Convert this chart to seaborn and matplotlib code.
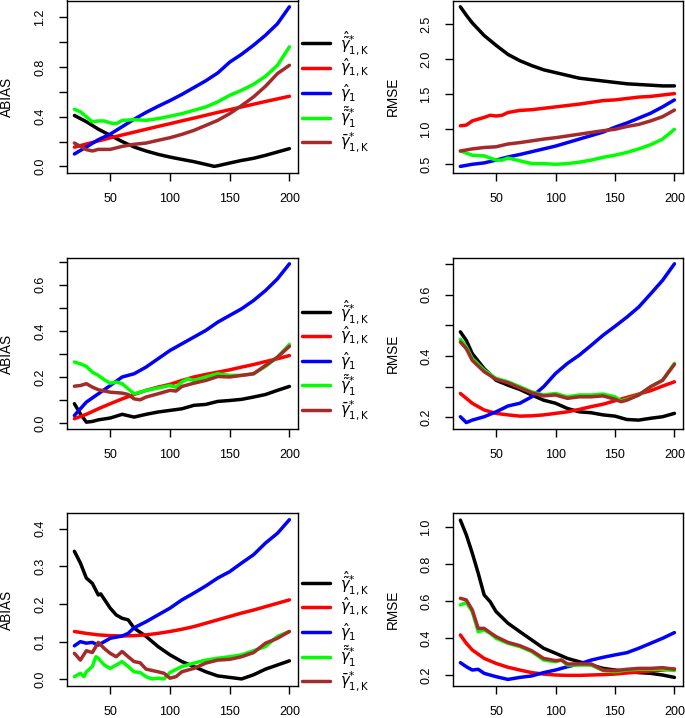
import matplotlib
matplotlib.use("Agg")
import matplotlib.pyplot as plt
import pandas as pd
import seaborn as sns
from matplotlib.lines import Line2D

sns.set_theme(style="ticks")
plt.rcParams["font.family"] = ["Liberation Sans", "DejaVu Sans"]
plt.rcParams["mathtext.fontset"] = "dejavusans"

# ---------------- data ----------------
SERIES_COLORS = ["#000000", "#FF0000", "#0000FF", "#00FF00", "#A52A2A"]
LEGEND_LABELS = [
    r"$\hat{\tilde{\gamma}}^{*}_{\mathrm{1,K}}$",
    r"$\hat{\gamma}_{\mathrm{1,K}}$",
    r"$\hat{\gamma}_{\mathrm{1}}$",
    r"$\tilde{\tilde{\gamma}}^{*}_{\mathrm{1}}$",
    r"$\bar{\gamma}^{*}_{\mathrm{1,K}}$",
]
X_TICKS = [50, 100, 150, 200]

# Row 1, ABIAS
abias1_black = [(20, .41), (30, .36), (40, .30), (50, .25), (60, .20), (70, .156), (80, .124), (90, .097),
                (100, .075), (110, .056), (120, .038), (130, .016), (137, .0), (140, .005), (150, .027),
                (160, .048), (170, .065), (180, .089), (190, .116), (200, .143)]
abias1_red = [(20, .155), (30, .18), (40, .205), (50, .23), (60, .253), (70, .276), (80, .299), (90, .322),
              (100, .344), (110, .367), (120, .389), (130, .412), (140, .435), (150, .457), (160, .479),
              (170, .501), (180, .523), (190, .544), (200, .565)]
abias1_blue = [(20, .10), (30, .156), (40, .215), (50, .26), (60, .32), (70, .38), (80, .435), (90, .484),
               (100, .53), (110, .58), (120, .635), (130, .69), (140, .753), (150, .84), (160, .904),
               (170, .977), (180, 1.057), (190, 1.15), (200, 1.286)]
abias1_green = [(20, .46), (25, .44), (30, .40), (35, .36), (40, .366), (45, .366), (50, .35), (55, .344),
                (60, .37), (70, .377), (80, .371), (90, .385), (100, .404), (110, .425), (120, .452),
                (130, .479), (140, .52), (150, .573), (160, .613), (170, .662), (180, .726), (190, .815),
                (200, .963)]
abias1_brown = [(20, .188), (30, .135), (35, .124), (40, .137), (50, .137), (60, .161), (70, .178), (80, .188),
                (90, .21), (100, .231), (110, .258), (120, .29), (130, .33), (140, .371), (150, .425),
                (160, .49), (170, .56), (180, .646), (190, .748), (200, .815)]

# Row 1, RMSE
rmse1_black = [(20, 2.75), (25, 2.63), (30, 2.52), (40, 2.34), (50, 2.2), (60, 2.07), (70, 1.98), (80, 1.91),
               (90, 1.85), (100, 1.81), (110, 1.77), (120, 1.73), (130, 1.71), (140, 1.69), (150, 1.67),
               (160, 1.65), (170, 1.64), (180, 1.63), (190, 1.62), (200, 1.62)]
rmse1_red = [(20, 1.05), (25, 1.06), (30, 1.12), (40, 1.17), (45, 1.2), (50, 1.19), (55, 1.2), (60, 1.24),
             (70, 1.27), (80, 1.28), (90, 1.30), (100, 1.32), (110, 1.34), (120, 1.36), (130, 1.385),
             (140, 1.41), (150, 1.42), (160, 1.44), (170, 1.46), (180, 1.47), (190, 1.49), (200, 1.51)]
rmse1_blue = [(20, .47), (30, .50), (40, .52), (50, .56), (60, .605), (70, .64), (80, .68), (90, .72),
              (100, .76), (110, .81), (120, .86), (130, .91), (140, .96), (150, 1.03), (160, 1.09),
              (170, 1.16), (180, 1.23), (190, 1.32), (200, 1.42)]
rmse1_green = [(20, .69), (30, .63), (40, .62), (50, .56), (55, .56), (60, .59), (70, .55), (80, .51),
               (90, .51), (100, .50), (110, .51), (120, .53), (130, .56), (140, .60), (150, .63),
               (160, .67), (170, .72), (180, .78), (190, .86), (200, 1.00)]
rmse1_brown = [(20, .69), (30, .72), (40, .74), (50, .75), (60, .79), (70, .81), (80, .835), (90, .86),
               (100, .88), (110, .905), (120, .93), (130, .955), (140, .98), (150, 1.0), (160, 1.04),
               (170, 1.07), (180, 1.12), (190, 1.18), (200, 1.275)]

# Row 2, ABIAS
abias2_black = [(20, .084), (25, .04), (30, .004), (35, .007), (40, .014), (50, .022), (60, .038), (70, .026),
                (80, .038), (90, .048), (100, .055), (110, .062), (120, .077), (130, .081), (140, .094),
                (150, .098), (160, .103), (170, .113), (180, .124), (190, .142), (200, .159)]
abias2_red = [(20, .019), (30, .038), (40, .062), (50, .084), (60, .105), (70, .124), (80, .142), (90, .156),
              (100, .168), (110, .185), (120, .2), (130, .211), (140, .221), (150, .231), (160, .243),
              (170, .254), (180, .267), (190, .279), (200, .293)]
abias2_blue = [(20, .033), (25, .062), (30, .091), (40, .127), (50, .163), (60, .2), (70, .214), (80, .243),
               (90, .279), (100, .315), (110, .344), (120, .373), (130, .402), (140, .438), (150, .467),
               (160, .496), (170, .532), (180, .575), (190, .626), (200, .691)]
abias2_green = [(20, .265), (25, .257), (30, .246), (35, .221), (40, .207), (45, .188), (50, .173), (55, .178),
                (60, .171), (65, .149), (70, .127), (75, .134), (80, .142), (90, .152), (100, .163),
                (105, .156), (110, .178), (115, .192), (120, .185), (130, .2), (140, .214), (150, .207),
                (160, .207), (170, .214), (180, .246), (190, .286), (200, .341)]
abias2_brown = [(20, .16), (25, .163), (30, .171), (35, .156), (40, .145), (50, .134), (60, .13), (65, .124),
                (70, .105), (75, .101), (80, .113), (90, .127), (100, .142), (105, .139), (110, .159),
                (120, .173), (130, .185), (140, .202), (150, .2), (160, .207), (170, .214), (180, .25),
                (190, .286), (200, .333)]

# Row 2, RMSE
rmse2_black = [(20, .479), (25, .451), (30, .408), (40, .359), (50, .321), (60, .305), (70, .291), (80, .273),
               (90, .256), (100, .246), (110, .229), (120, .218), (130, .215), (140, .208), (150, .204),
               (160, .193), (170, .191), (180, .197), (190, .202), (200, .213)]
rmse2_red = [(20, .278), (30, .246), (40, .224), (50, .213), (60, .208), (70, .204), (80, .205), (90, .208),
             (100, .213), (110, .218), (120, .226), (130, .235), (140, .243), (150, .254), (160, .265),
             (170, .276), (180, .287), (190, .302), (200, .316)]
rmse2_blue = [(20, .202), (25, .183), (30, .191), (40, .202), (50, .218), (60, .237), (70, .246), (80, .267),
              (90, .3), (100, .343), (110, .376), (120, .403), (130, .435), (140, .468), (150, .497),
              (160, .527), (170, .56), (180, .603), (190, .647), (200, .701)]
rmse2_green = [(20, .455), (25, .43), (30, .392), (40, .354), (50, .327), (60, .316), (70, .3), (80, .283),
               (90, .273), (100, .278), (110, .267), (120, .273), (130, .273), (140, .276), (150, .267),
               (155, .254), (160, .259), (170, .273), (180, .3), (190, .321), (200, .376)]
rmse2_brown = [(20, .446), (25, .424), (30, .386), (40, .349), (50, .324), (60, .313), (70, .296), (80, .28),
               (90, .27), (100, .273), (110, .262), (120, .267), (130, .267), (140, .27), (150, .259),
               (155, .251), (160, .256), (170, .273), (180, .3), (190, .321), (200, .373)]

# Row 3, ABIAS
abias3_black = [(20, .34), (25, .309), (30, .269), (35, .255), (40, .224), (42, .227), (50, .189), (55, .171),
                (60, .162), (65, .158), (70, .136), (80, .114), (90, .087), (100, .065), (110, .047),
                (120, .034), (130, .02), (140, .009), (150, .005), (160, .001), (170, .012), (180, .027),
                (190, .038), (200, .049)]
abias3_red = [(20, .127), (30, .122), (40, .118), (50, .116), (60, .115), (70, .116), (80, .118), (90, .122),
              (100, .127), (110, .133), (120, .14), (130, .149), (140, .158), (150, .167), (160, .176),
              (170, .184), (180, .193), (190, .202), (200, .211)]
abias3_blue = [(20, .089), (25, .1), (30, .096), (35, .098), (40, .091), (45, .1), (50, .109), (60, .115),
               (65, .122), (70, .137), (80, .153), (90, .171), (100, .189), (110, .211), (120, .229),
               (130, .248), (140, .269), (150, .286), (160, .309), (170, .331), (180, .362), (190, .388),
               (200, .424)]
abias3_green = [(20, .007), (25, .016), (28, .007), (30, .02), (35, .034), (38, .06), (40, .056), (45, .038),
                (50, .029), (55, .038), (60, .047), (65, .034), (70, .02), (75, .018), (80, .007), (85, .001),
                (90, .003), (95, .001), (100, .018), (110, .034), (120, .043), (130, .051), (140, .056),
                (150, .06), (160, .065), (170, .076), (180, .087), (190, .114), (200, .127)]
abias3_brown = [(20, .069), (25, .051), (30, .076), (35, .071), (40, .098), (45, .082), (50, .069), (55, .06),
                (60, .074), (65, .06), (70, .047), (75, .044), (80, .027), (90, .02), (95, .016), (100, .003),
                (105, .007), (110, .02), (120, .029), (130, .043), (140, .051), (150, .053), (160, .06),
                (170, .071), (180, .096), (190, .109), (200, .127)]

# Row 3, RMSE
rmse3_black = [(20, 1.04), (25, .96), (30, .861), (35, .752), (40, .634), (45, .598), (50, .544), (60, .481),
               (70, .435), (80, .39), (90, .345), (100, .318), (110, .29), (120, .272), (130, .254),
               (140, .236), (150, .227), (160, .218), (170, .213), (180, .209), (190, .2), (200, .187)]
rmse3_red = [(20, .417), (25, .372), (30, .336), (40, .29), (50, .263), (60, .242), (70, .227), (80, .213),
             (90, .205), (100, .2), (110, .198), (120, .198), (130, .2), (140, .202), (150, .205),
             (160, .211), (170, .216), (180, .222), (190, .227), (200, .233)]
rmse3_blue = [(20, .267), (25, .245), (30, .227), (35, .231), (40, .209), (50, .191), (60, .176), (70, .187),
              (80, .195), (90, .213), (100, .227), (110, .245), (120, .26), (130, .281), (140, .296),
              (150, .309), (160, .321), (170, .345), (180, .372), (190, .399), (200, .43)]
rmse3_green = [(20, .58), (25, .593), (30, .544), (35, .435), (40, .444), (45, .426), (50, .399), (60, .372),
               (70, .354), (80, .327), (90, .281), (100, .272), (105, .281), (110, .254), (120, .254),
               (130, .254), (140, .224), (150, .218), (160, .227), (170, .231), (180, .231), (190, .231),
               (200, .224)]
rmse3_brown = [(20, .616), (25, .607), (30, .553), (35, .453), (40, .453), (45, .43), (50, .408), (60, .377),
               (70, .359), (80, .332), (90, .29), (100, .278), (105, .281), (110, .26), (120, .26), (130, .26),
               (140, .227), (150, .224), (160, .231), (170, .236), (180, .236), (190, .24), (200, .231)]

# ---------------- layout ----------------
W, H = 685, 718
fig = plt.figure(figsize=(W / 100, H / 100), dpi=100)

cols = [(67, 231), (453, 230)]
rows = [(0.5, 172.7), (258.3, 429.3), (513.3, 685.7)]

panels = [
    (0, 0, "ABIAS", [abias1_black, abias1_red, abias1_blue, abias1_green, abias1_brown],
     (-0.051, 1.337), [0, .2, .4, .6, .8, 1.0, 1.2], {0: "0.0", .4: "0.4", .8: "0.8", 1.2: "1.2"}),
    (0, 1, "RMSE", [rmse1_black, rmse1_red, rmse1_blue, rmse1_green, rmse1_brown],
     (0.38, 2.84), [.5, 1.0, 1.5, 2.0, 2.5], None),
    (1, 0, "ABIAS", [abias2_black, abias2_red, abias2_blue, abias2_green, abias2_brown],
     (-0.027, 0.715), [0, .1, .2, .3, .4, .5, .6, .7], {0: "0.0", .2: "0.2", .4: "0.4", .6: "0.6"}),
    (1, 1, "RMSE", [rmse2_black, rmse2_red, rmse2_blue, rmse2_green, rmse2_brown],
     (0.161, 0.719), [.2, .3, .4, .5, .6, .7], {.2: "0.2", .4: "0.4", .6: "0.6"}),
    (2, 0, "ABIAS", [abias3_black, abias3_red, abias3_blue, abias3_green, abias3_brown],
     (-0.017, 0.441), [0, .1, .2, .3, .4], None),
    (2, 1, "RMSE", [rmse3_black, rmse3_red, rmse3_blue, rmse3_green, rmse3_brown],
     (0.142, 1.077), [.2, .4, .6, .8, 1.0], None),
]

for r, c, ylab, series, ylim, yticks, ylabels in panels:
    x0, w = cols[c]
    top, bot = rows[r]
    ax = fig.add_axes([x0 / W, 1 - bot / H, w / W, (bot - top) / H])
    for pairs, col in zip(series, SERIES_COLORS):
        df = pd.DataFrame(pairs, columns=["n", "value"])
        sns.lineplot(data=df, x="n", y="value", ax=ax, color=col, lw=2.5,
                     estimator=None, sort=False)
    ax.set_xlim(13.8, 207.2)
    ax.set_ylim(*ylim)
    ax.set_xticks(X_TICKS)
    ax.set_xticklabels([str(t) for t in X_TICKS])
    ax.set_yticks(yticks)
    if ylabels is None:
        ax.set_yticklabels([f"{t:.1f}" for t in yticks])
    else:
        ax.set_yticklabels([ylabels.get(t, "") for t in yticks])
    ax.set_xlabel("")
    ax.set_ylabel(ylab, fontsize=9.8, color="black")
    ax.yaxis.label.set_va("center")
    ax.yaxis.set_label_coords(-60.5 / w, 0.442)
    for sp in ax.spines.values():
        sp.set_visible(True)
        sp.set_color("black")
        sp.set_linewidth(1.0)
    ax.tick_params(axis="both", direction="out", length=5.8, width=1.0, color="black",
                   labelsize=9.0, labelcolor="black")
    ax.tick_params(axis="x", pad=8.5)
    ax.tick_params(axis="y", pad=9.0, labelrotation=90)
    for lbl in ax.get_yticklabels():
        lbl.set_va("center")

# legends (one per row, between the columns)
legend_rows = [
    [43.3, 68.3, 92.7, 117.7, 142.3],
    [311.7, 336.0, 360.7, 385.3, 410.0],
    [582.7, 607.3, 632.0, 656.7, 681.3],
]
for ys in legend_rows:
    for y, col, lab in zip(ys, SERIES_COLORS, LEGEND_LABELS):
        yf = 1 - y / H
        fig.add_artist(Line2D([302 / W, 330 / W], [yf, yf], transform=fig.transFigure,
                              color=col, lw=2.5))
        fig.text(340 / W, yf, lab, ha="left", va="center", fontsize=10.5, color="black")

fig.savefig("out.png", dpi=100, facecolor="white")
